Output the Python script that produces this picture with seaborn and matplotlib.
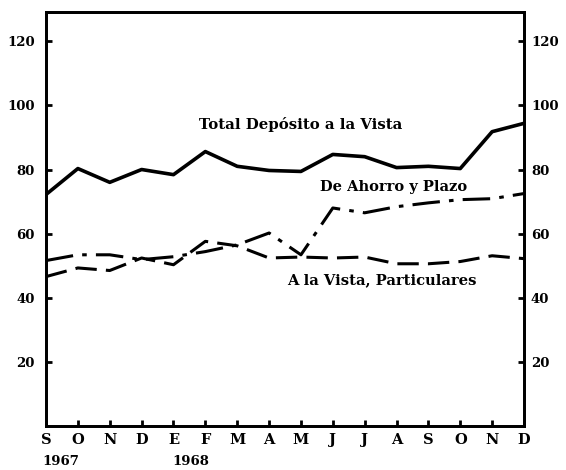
import pandas as pd
import matplotlib.pyplot as plt
import seaborn as sns

sns.set_style("white")
plt.rcParams['font.family'] = ['DejaVu Serif']
plt.rcParams['text.color'] = 'black'
plt.rcParams['xtick.color'] = 'black'
plt.rcParams['ytick.color'] = 'black'

# data (index, base arbitrary)
months = ['S', 'O', 'N', 'D', 'E', 'F', 'M', 'A', 'M', 'J', 'J', 'A', 'S', 'O', 'N', 'D']
total_vista = [72.2, 80.3, 76.0, 80.0, 78.4, 85.6, 81.0, 79.7, 79.4, 84.7, 84.0, 80.6, 81.0, 80.3, 91.8, 94.4]
ahorro_plazo = [51.6, 53.4, 53.4, 51.9, 52.8, 54.4, 56.5, 60.2, 53.4, 68.0, 66.5, 68.4, 69.6, 70.6, 70.9, 72.5]
vista_part = [46.6, 49.3, 48.5, 52.4, 50.3, 57.6, 56.2, 52.4, 52.7, 52.4, 52.7, 50.6, 50.6, 51.3, 53.1, 52.2]
y_ticks = [20, 40, 60, 80, 100, 120]

df = pd.DataFrame({'t': range(len(months)), 'total': total_vista,
                   'ahorro': ahorro_plazo, 'part': vista_part})

fig = plt.figure(figsize=(5.66, 4.70), dpi=100)
ax = fig.add_axes([0.0813, 0.0936, 0.8445, 0.880])

sns.lineplot(data=df, x='t', y='total', ax=ax, color='black', lw=2.6)
sns.lineplot(data=df, x='t', y='ahorro', ax=ax, color='black', lw=2.2)
sns.lineplot(data=df, x='t', y='part', ax=ax, color='black', lw=2.2)
ax.lines[1].set_dashes([9, 3, 1.5, 3])
ax.lines[2].set_dashes([7, 3])

ax.set_xlim(0, len(months) - 1)
ax.set_ylim(0, 129)
ax.set_xlabel('')
ax.set_ylabel('')
ax.set_xticks(range(len(months)))
ax.set_xticklabels(months, fontweight='bold', fontsize=10.5)
ax.set_yticks(y_ticks)
ax.set_yticklabels([str(v) for v in y_ticks], fontweight='bold', fontsize=9.5)
ax.tick_params(axis='y', direction='in', length=4, width=2, left=True, pad=8)
ax.tick_params(axis='x', direction='in', length=4, width=2, bottom=True, pad=5)
for s in ax.spines.values():
    s.set_linewidth(2)
    s.set_color('black')

# right-hand scale
ax2 = ax.twinx()
ax2.set_ylim(ax.get_ylim())
ax2.set_yticks(y_ticks)
ax2.set_yticklabels([str(v) for v in y_ticks], fontweight='bold', fontsize=9.5)
ax2.tick_params(axis='y', direction='in', length=4, width=2, right=True, pad=5)
for s in ax2.spines.values():
    s.set_linewidth(2)
    s.set_color('black')

ax.text(-0.1, -0.085, '1967', transform=ax.get_xaxis_transform(), ha='left', va='center',
        fontweight='bold', fontsize=9.5)
ax.text(3.95, -0.085, '1968', transform=ax.get_xaxis_transform(), ha='left', va='center',
        fontweight='bold', fontsize=9.5)

ax.text(8.0, 94, 'Total Depósito a la Vista', ha='center', va='center', fontweight='bold', fontsize=10.7)
ax.text(10.9, 74.5, 'De Ahorro y Plazo', ha='center', va='center', fontweight='bold', fontsize=10.5)
ax.text(10.55, 45.6, 'A la Vista, Particulares', ha='center', va='center', fontweight='bold', fontsize=10.6)

fig.savefig('out.png', dpi=100)
